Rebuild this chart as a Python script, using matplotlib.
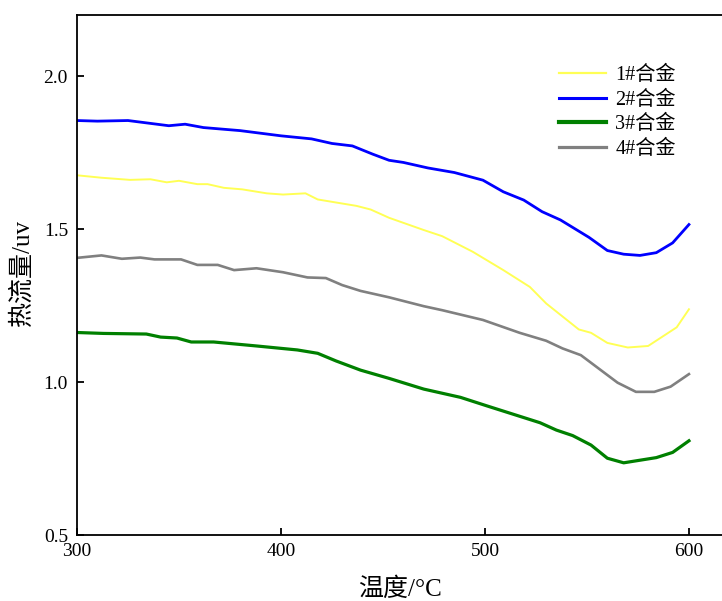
import matplotlib
matplotlib.use("Agg")
import matplotlib.pyplot as plt

plt.rcParams['font.family'] = ['Liberation Serif', 'Noto Sans CJK SC', 'DejaVu Sans']
plt.rcParams['axes.unicode_minus'] = False

# ---- data ----
x1 = [300, 312, 326, 336, 344, 350, 359, 364, 372, 381, 393, 401, 412, 418, 427, 437, 444, 453,
      470, 479, 494, 509, 522, 530, 546, 552, 560, 570, 580, 594, 600]
y1 = [1.676, 1.668, 1.661, 1.663, 1.653, 1.658, 1.647, 1.647, 1.635, 1.630, 1.617, 1.613, 1.617, 1.597,
      1.587, 1.576, 1.564, 1.537, 1.497, 1.477, 1.426, 1.366, 1.311, 1.257, 1.172, 1.161, 1.128, 1.113,
      1.118, 1.179, 1.238]

x2 = [300, 310, 325, 345, 353, 362, 380, 400, 415, 425, 435, 445, 453, 460, 472, 485, 499, 509,
      519, 528, 537, 551, 560, 568, 576, 584, 592, 600]
y2 = [1.855, 1.853, 1.855, 1.838, 1.843, 1.832, 1.822, 1.805, 1.795, 1.780, 1.772, 1.745, 1.725, 1.718,
      1.700, 1.685, 1.660, 1.622, 1.595, 1.557, 1.530, 1.473, 1.430, 1.418, 1.414, 1.423, 1.455, 1.515]

x3 = [300, 313, 334, 341, 349, 356, 367, 388, 408, 418, 427, 439, 453, 470, 488, 501, 527, 535,
      543, 552, 560, 568, 584, 592, 600]
y3 = [1.162, 1.159, 1.157, 1.147, 1.144, 1.131, 1.131, 1.118, 1.105, 1.094, 1.069, 1.039, 1.012, 0.977,
      0.950, 0.922, 0.867, 0.843, 0.825, 0.794, 0.751, 0.736, 0.753, 0.770, 0.808]

x4 = [300, 312, 322, 331, 338, 351, 359, 369, 377, 388, 401, 413, 422, 430, 439, 453, 470, 479,
      499, 517, 530, 538, 547, 555, 565, 574, 583, 591, 600]
y4 = [1.406, 1.414, 1.403, 1.407, 1.401, 1.401, 1.383, 1.383, 1.366, 1.372, 1.359, 1.342, 1.340, 1.317,
      1.298, 1.277, 1.248, 1.235, 1.203, 1.161, 1.135, 1.110, 1.088, 1.048, 0.998, 0.968, 0.968, 0.985,
      1.026]

labels = ['1#合金', '2#合金', '3#合金', '4#合金']
colors = ['#ffff55', '#0000ff', '#008000', '#808080']
widths = [1.4, 2.0, 2.3, 1.9]

xticks = [300, 400, 500, 600]
yticks = [0.5, 1.0, 1.5, 2.0]

fig = plt.figure(figsize=(7.22, 6.01), dpi=100)
ax = fig.add_axes([77 / 722, 1 - 535 / 601, 645 / 722, 520 / 601])

for xs, ys, lab, c, w in zip([x1, x2, x3, x4], [y1, y2, y3, y4], labels, colors, widths):
    ax.plot(xs, ys, color=c, lw=w, label=lab)

ax.set_xlim(300, 616.2)
ax.set_ylim(0.5, 2.2)
ax.set_xticks(xticks)
ax.set_yticks(yticks)
ax.set_yticklabels([f'{v:.1f}' for v in yticks])
ax.tick_params(direction='in', length=5, width=1.3, labelsize=14, colors='black')
ax.tick_params(axis='x', pad=6)
ax.spines['right'].set_visible(False)
for s in ['left', 'top', 'bottom']:
    ax.spines[s].set_linewidth(1.3)
ax.tick_params(axis='y', pad=6.5)

ax.set_xlabel('温度/°C', fontsize=18)
ax.set_ylabel('热流量/uv', fontsize=18)
ax.xaxis.set_label_coords(0.5, -(589 - 535) / 520, transform=ax.transAxes)
ax.xaxis.label.set_va('center')
ax.yaxis.set_label_coords(-(77 - 22) / 645, (535 - 272) / 520, transform=ax.transAxes)
ax.yaxis.label.set_va('center')

leg = fig.legend(loc='upper left', bbox_to_anchor=(559 / 722, 1 - 66 / 601), frameon=False,
                 fontsize=14.5, handlelength=2.35, handletextpad=0.45, labelspacing=0.26,
                 borderpad=0, borderaxespad=0)
for h, w in zip(leg.get_lines(), [1.6, 2.2, 3.0, 2.3]):
    h.set_linewidth(w)

fig.savefig('out.png', dpi=100)
